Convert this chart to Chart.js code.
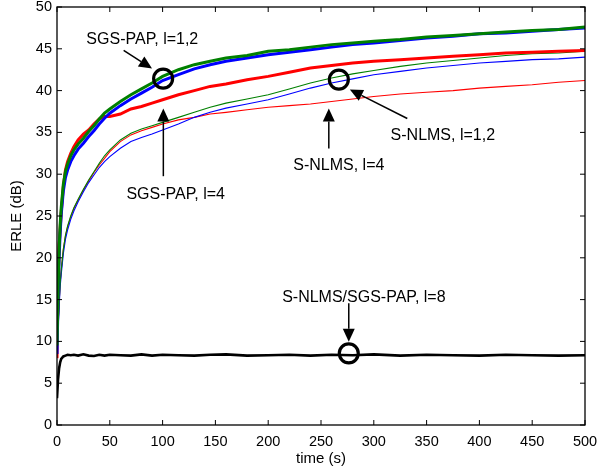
<!DOCTYPE html>
<html>
<head>
<meta charset="utf-8">
<script src="https://cdn.jsdelivr.net/npm/chart.js@4"></script>
<style>
  html, body { margin: 0; padding: 0; background: #fff; }
  #wrap { width: 597px; height: 471px; }
</style>
</head>
<body>
<div id="wrap"><canvas id="myChart" width="597" height="471"></canvas></div>
<script>
const ctx = document.getElementById('myChart');

// time axis (s)
const times = [0, 1, 2, 3, 4, 6, 8, 10, 13, 16, 20, 25, 30, 35, 40, 45, 50, 60, 70, 80, 90,
  100, 115, 130, 145, 160, 180, 200, 220, 240, 260, 280, 300, 325, 350, 375, 400, 425, 450, 475, 500];

// ERLE (dB)
const sgsPap12Green = [9.5, 16, 21, 24, 26, 28.8, 30.3, 31.2, 32.2, 32.9, 33.6, 34.3, 35.1, 35.8, 36.6, 37.3, 37.8, 38.7, 39.5, 40.2, 40.9,
  41.7, 42.5, 43.1, 43.5, 43.9, 44.2, 44.7, 44.9, 45.2, 45.5, 45.7, 45.9, 46.1, 46.4, 46.6, 46.8, 47.0, 47.2, 47.3, 47.6];
const sgsPap12Blue = [8.5, 15, 20, 23, 25.2, 28, 29.6, 30.5, 31.5, 32.2, 33.0, 33.7, 34.5, 35.2, 36.0, 36.7, 37.3, 38.2, 39.0, 39.7, 40.4,
  41.2, 41.9, 42.6, 43.1, 43.5, 43.9, 44.3, 44.6, 44.9, 45.2, 45.5, 45.7, 46.0, 46.3, 46.5, 46.8, 46.9, 47.1, 47.3, 47.5];
const sgsPap4 = [8, 17, 21.5, 23.5, 25.5, 28.5, 30.5, 31.5, 32.5, 33.3, 34.1, 34.8, 35.3, 36.0, 36.6, 36.9, 36.9, 37.2, 37.8, 38.1, 38.5,
  38.9, 39.5, 40.0, 40.5, 40.8, 41.3, 41.7, 42.2, 42.7, 43.0, 43.3, 43.5, 43.7, 43.9, 44.1, 44.3, 44.5, 44.6, 44.7, 44.8];
const sNlms12Green = [9, 12, 14.5, 17, 18.5, 21, 22.7, 23.8, 25.0, 26.0, 27.0, 28.2, 29.3, 30.3, 31.3, 32.2, 32.9, 34.1, 34.9, 35.4, 35.8,
  36.2, 36.8, 37.4, 38.0, 38.5, 39.0, 39.5, 40.2, 40.9, 41.5, 42.0, 42.4, 42.9, 43.3, 43.6, 43.9, 44.2, 44.4, 44.5, 44.7];
const sNlms12Blue = [8, 11.5, 14, 16.5, 18, 20.5, 22.2, 23.3, 24.6, 25.6, 26.7, 27.9, 29.0, 29.9, 30.8, 31.5, 32.1, 33.1, 33.9, 34.4, 34.8,
  35.3, 36.0, 36.8, 37.4, 37.9, 38.4, 38.9, 39.6, 40.3, 40.9, 41.4, 41.9, 42.3, 42.7, 43.0, 43.3, 43.5, 43.7, 43.8, 44.0];
const sNlms4 = [8.5, 12, 14.5, 17, 18.5, 21, 22.6, 23.7, 24.9, 25.9, 26.9, 28.1, 29.2, 30.2, 31.1, 31.9, 32.7, 33.9, 34.7, 35.2, 35.6,
  36.0, 36.5, 36.8, 37.2, 37.4, 37.7, 38.0, 38.2, 38.4, 38.7, 39.0, 39.3, 39.6, 39.8, 40.0, 40.3, 40.5, 40.7, 41.0, 41.2];
const both8 = [3.2, 5.5, 6.8, 7.5, 7.9, 8.2, 8.3, 8.4, 8.35, 8.4, 8.3, 8.45, 8.3, 8.25, 8.4, 8.3, 8.4, 8.35, 8.3, 8.45, 8.3,
  8.4, 8.35, 8.3, 8.4, 8.45, 8.3, 8.35, 8.4, 8.3, 8.4, 8.35, 8.45, 8.3, 8.4, 8.35, 8.3, 8.4, 8.35, 8.3, 8.35];

const xTicks = [0, 50, 100, 150, 200, 250, 300, 350, 400, 450, 500];
const yTicks = [0, 5, 10, 15, 20, 25, 30, 35, 40, 45, 50];

// annotations, in data units (time, dB)
const labels = [
  { text: 'SGS-PAP, l=1,2', x: 27.8, y: 45.6 },
  { text: 'SGS-PAP, l=4', x: 65.7, y: 27.0 },
  { text: 'S-NLMS, l=4', x: 223.7, y: 30.5 },
  { text: 'S-NLMS, l=1,2', x: 315.9, y: 34.1 },
  { text: 'S-NLMS/SGS-PAP, l=8', x: 213.2, y: 14.7 }
];
const arrows = [
  { x0: 63.1, y0: 44.82, x1: 90.0, y1: 42.63 },
  { x0: 100.7, y0: 29.76, x1: 100.7, y1: 37.85 },
  { x0: 257.4, y0: 33.07, x1: 257.4, y1: 37.85 },
  { x0: 331.7, y0: 36.66, x1: 277.3, y1: 40.12 },
  { x0: 276.3, y0: 14.55, x1: 276.3, y1: 9.96 }
];
const circles = [
  { x: 100.5, y: 41.44 },
  { x: 266.9, y: 41.32 },
  { x: 276.3, y: 8.57 }
];

const FONT = '"Liberation Sans", Arial, Helvetica, sans-serif';

function series(vals, color, width) {
  return {
    data: times.map((t, i) => ({ x: t, y: vals[i] })),
    borderColor: color,
    borderWidth: width,
    pointRadius: 0,
    tension: 0,
    fill: false
  };
}

const frameAndNotes = {
  id: 'frameAndNotes',
  afterDatasetsDraw(chart) {
    const c = chart.ctx;
    const xs = chart.scales.x, ys = chart.scales.y;
    const a = chart.chartArea;
    c.save();
    // box + inward ticks
    c.strokeStyle = '#000';
    c.lineWidth = 1.3;
    c.strokeRect(a.left, a.top, a.right - a.left, a.bottom - a.top);
    c.lineWidth = 1;
    c.beginPath();
    xTicks.forEach(v => {
      const px = xs.getPixelForValue(v);
      c.moveTo(px, a.bottom); c.lineTo(px, a.bottom - 5);
      c.moveTo(px, a.top); c.lineTo(px, a.top + 5);
    });
    yTicks.forEach(v => {
      const py = ys.getPixelForValue(v);
      c.moveTo(a.left, py); c.lineTo(a.left + 5, py);
      c.moveTo(a.right, py); c.lineTo(a.right - 5, py);
    });
    c.stroke();

    // labels
    c.fillStyle = '#000';
    c.font = '16px ' + FONT;
    c.textAlign = 'left';
    c.textBaseline = 'alphabetic';
    labels.forEach(l => c.fillText(l.text, xs.getPixelForValue(l.x), ys.getPixelForValue(l.y)));

    // arrows
    arrows.forEach(ar => {
      const x0 = xs.getPixelForValue(ar.x0), y0 = ys.getPixelForValue(ar.y0);
      const x1 = xs.getPixelForValue(ar.x1), y1 = ys.getPixelForValue(ar.y1);
      const ang = Math.atan2(y1 - y0, x1 - x0);
      const len = 13, hw = 6;
      const bx = x1 - len * Math.cos(ang), by = y1 - len * Math.sin(ang);
      c.lineWidth = 1.5;
      c.beginPath();
      c.moveTo(x0, y0); c.lineTo(bx, by);
      c.stroke();
      c.beginPath();
      c.moveTo(x1, y1);
      c.lineTo(bx + hw * Math.sin(ang), by - hw * Math.cos(ang));
      c.lineTo(bx - hw * Math.sin(ang), by + hw * Math.cos(ang));
      c.closePath();
      c.fill();
    });

    // circles
    c.lineWidth = 3.2;
    circles.forEach(o => {
      c.beginPath();
      c.arc(xs.getPixelForValue(o.x), ys.getPixelForValue(o.y), 9.5, 0, Math.PI * 2);
      c.stroke();
    });
    c.restore();
  }
};

new Chart(ctx, {
  type: 'line',
  data: {
    datasets: [
      series(both8, '#000000', 2.6),
      series(sgsPap12Green, '#008000', 3),
      series(sgsPap12Blue, '#0000ff', 3),
      series(sgsPap4, '#ff0000', 3),
      series(sNlms12Green, '#008000', 1.1),
      series(sNlms12Blue, '#0000ff', 1.1),
      series(sNlms4, '#ff0000', 1.1)
    ]
  },
  options: {
    responsive: false,
    animation: false,
    layout: { padding: { top: 7, right: 12, left: 0, bottom: 0 } },
    plugins: { legend: { display: false }, tooltip: { enabled: false } },
    scales: {
      x: {
        type: 'linear',
        min: 0, max: 500,
        afterFit: (s) => { s.height = 46; s.paddingLeft = 0; s.paddingRight = 0; },
        afterBuildTicks: (s) => { s.ticks = xTicks.map(v => ({ value: v })); },
        grid: { display: false, drawTicks: false },
        border: { display: false },
        ticks: { color: '#000', padding: 8, maxRotation: 0, font: { family: FONT, size: 14.5 } },
        title: { display: true, text: 'time (s)', color: '#000', padding: { top: 0, bottom: 3 }, font: { family: FONT, size: 15 } }
      },
      y: {
        min: 0, max: 50,
        afterFit: (s) => { s.width = 57; s.paddingTop = 0; s.paddingBottom = 0; },
        afterBuildTicks: (s) => { s.ticks = yTicks.map(v => ({ value: v })); },
        grid: { display: false, drawTicks: false },
        border: { display: false },
        ticks: { color: '#000', padding: 5, font: { family: FONT, size: 14.5 } },
        title: { display: true, text: 'ERLE (dB)', color: '#000', padding: { top: 8, bottom: 0 }, font: { family: FONT, size: 15 } }
      }
    }
  },
  plugins: [frameAndNotes]
});
</script>
</body>
</html>
